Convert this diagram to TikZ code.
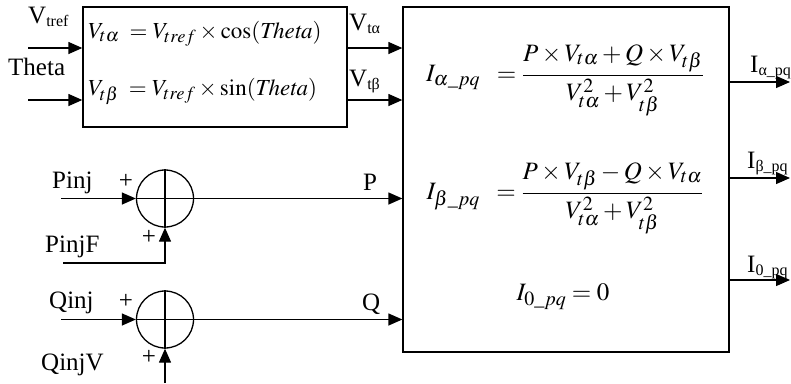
\documentclass[tikz,border=0pt]{standalone}
\usepackage{amsmath}
\usepackage{mathptmx}
\usepackage{fontspec}
\setmainfont{Liberation Serif}
\usepackage{tikz}
\usetikzlibrary{arrows.meta,positioning,calc}
\def\defaultscriptratio{.8}
\newcommand{\lsub}[1]{\raisebox{-0.3ex}{\fontsize{16}{17}\selectfont #1}}

\begin{document}
\begin{tikzpicture}[x=1pt, y=-1pt,
  font=\fontsize{25}{28}\selectfont,
  blk/.style={draw, line width=1.3pt, inner sep=0pt},
  sumj/.style={draw, circle, line width=1.3pt, minimum size=57pt, inner sep=0pt},
  lbl/.style={inner sep=0pt},
  eq/.style={inner sep=0pt, font=\fontsize{23}{26}\selectfont},
  eqbig/.style={inner sep=0pt, font=\fontsize{25}{28}\selectfont},
  arr/.style={-{Triangle[length=14pt, width=12pt]}, line width=1.3pt},
  ln/.style={line width=1.3pt},
]
\useasboundingbox (0,0) rectangle (791,383);
% Vt transform block
\node[blk, minimum width=264pt, minimum height=120pt] (trans) at (215,67) {};
\node[eq, anchor=base west] (eqa) at (88,38) {$V_{t\alpha}\;=V_{tref}\times\cos(\mathit{Theta})$};
\node[eq, anchor=base west] (eqb) at (88,95) {$V_{t\beta}\;=V_{tref}\times\sin(\mathit{Theta})$};
% pq current block
\node[blk, minimum width=326pt, minimum height=345pt] (pqblk) at (566,179.5) {};
\node[eqbig] (ia) at (565,80)
  {$I_{\alpha\_pq}\;\;=\dfrac{P\times V_{t\alpha}+Q\times V_{t\beta}}{V_{t\alpha}^2+V_{t\beta}^2}$};
\node[eqbig] (ib) at (565,198)
  {$I_{\beta\_pq}\;\;=\dfrac{P\times V_{t\beta}-Q\times V_{t\alpha}}{V_{t\alpha}^2+V_{t\beta}^2}$};
\node[eqbig] (i0) at (563,297) {$I_{0\_pq}=0$};
% inputs
\coordinate (vref) at (28,48);
\coordinate (th) at (28,100);
\draw[arr] (vref) -- (vref -| trans.west);
\draw[arr] (th) -- (th -| trans.west);
\node[lbl, anchor=base west] (vrefl) at (28,23) {V\lsub{tref}};
\node[lbl, anchor=base west] (thl) at (8,75) {Theta};
% Vt outputs
\draw[arr] (vref -| trans.east) -- (vref -| pqblk.west);
\draw[arr] (th -| trans.east) -- (th -| pqblk.west);
\node[lbl, anchor=base west] (val) at (349,30) {V\lsub{tα}};
\node[lbl, anchor=base west] (vbl) at (349,86) {V\lsub{tβ}};
% P summing junction
\node[sumj] (sp) at (165,198.5) {};
\draw[ln] (sp.north) -- (sp.south) (sp.west) -- (sp.east);
\coordinate (pinj) at (61,198.5);
\coordinate (pinjf) at (63,263);
\draw[arr] (pinj) -- (sp.west);
\draw[arr] (pinjf) -| (sp.south);
\draw[arr] (sp.east) -- (sp.east -| pqblk.west);
\node[lbl, anchor=base west] (pinjl) at (52,188) {Pinj};
\node[lbl] (pp1) at (126,181) {+};
\node[lbl] (pp2) at (149,237.5) {+};
\node[lbl, anchor=base west] (pinjfl) at (45,252) {PinjF};
\node[lbl, anchor=base west] (pl) at (363,190) {P};
% Q summing junction
\node[sumj] (sq) at (165,319.5) {};
\draw[ln] (sq.north) -- (sq.south) (sq.west) -- (sq.east);
\coordinate (qinj) at (61,319.5);
\coordinate (qinjv) at (165,383);
\draw[arr] (qinj) -- (sq.west);
\draw[arr] (qinjv) -- (sq.south);
\draw[arr] (sq.east) -- (sq.east -| pqblk.west);
\node[lbl, anchor=base west] (qinjl) at (49,308) {Qinj};
\node[lbl] (qp1) at (126,301) {+};
\node[lbl] (qp2) at (149,357.5) {+};
\node[lbl, anchor=base west] (qinjvl) at (41,370) {QinjV};
\node[lbl, anchor=base west] (ql) at (362,310) {Q};
% current outputs
\coordinate (oa) at (790,82);
\coordinate (ob) at (790,178);
\coordinate (oz) at (790,280);
\draw[arr] (oa -| pqblk.east) -- (oa);
\draw[arr] (ob -| pqblk.east) -- (ob);
\draw[arr] (oz -| pqblk.east) -- (oz);
\node[lbl, anchor=base west] (ial) at (750,72) {I\lsub{α\_pq}};
\node[lbl, anchor=base west] (ibl) at (747,168) {I\lsub{β\_pq}};
\node[lbl, anchor=base west] (i0l) at (747,272) {I\lsub{0\_pq}};
\end{tikzpicture}
\end{document}
